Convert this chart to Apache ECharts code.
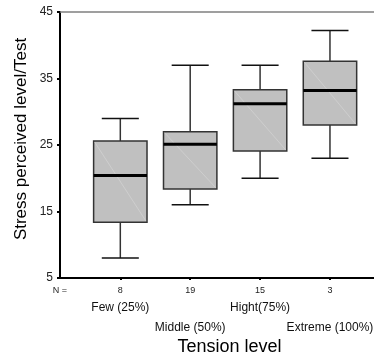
<!DOCTYPE html>
<html>
<head>
<meta charset="utf-8">
<script src="https://cdn.jsdelivr.net/npm/echarts@6/dist/echarts.min.js"></script>
<style>html,body{margin:0;padding:0;background:#fff}#c{width:374px;height:355px}</style>
</head>
<body>
<div id="c"></div>
<script>
const categories = ['Few (25%)', 'Middle (50%)', 'Hight(75%)', 'Extreme (100%)'];
const nCounts = [8, 19, 15, 3];
const mins = [8, 16, 20, 23];
const q1s = [13.4, 18.4, 24.1, 28];
const medians = [20.4, 25.1, 31.2, 33.2];
const q3s = [25.6, 27, 33.3, 37.6];
const maxs = [29, 37, 37, 42.2];
const yTicks = [5, 15, 25, 35, 45];

const FONT = 'Liberation Sans, Arial, sans-serif';
const boxData = categories.map((c, i) => [i + 1, mins[i], q1s[i], medians[i], q3s[i], maxs[i]]);
const xMin = 0.137, xMax = 4.63;

const chart = echarts.init(document.getElementById('c'), null, {renderer: 'canvas'});
chart.setOption({
  animation: false,
  backgroundColor: '#fff',
  grid: {left: 60, right: 0, top: 12, bottom: 77, containLabel: false, outerBoundsMode: 'none'},
  xAxis: [{
    type: 'value', min: xMin, max: xMax,
    splitLine: {show: false},
    axisLine: {lineStyle: {color: '#000', width: 2}},
    axisTick: {show: true, customValues: [1, 2, 3, 4], length: 2, lineStyle: {color: '#000', width: 2}},
    axisLabel: {
      show: true, customValues: [xMin, 1, 2, 3, 4, xMax], margin: 6, fontFamily: FONT, color: '#222',
      hideOverlap: false,
      formatter: function (v) {
        if (Math.abs(v - xMin) < 1e-6) return '{n|N =}';
        if (Math.abs(v - xMax) < 1e-6) return '{n| }';
        const i = Math.round(v) - 1;
        if (i % 2 === 0) return '{n|' + nCounts[i] + '}\n{c|' + categories[i] + '}';
        return '{n|' + nCounts[i] + '}\n{c| }\n{c|' + categories[i] + '}';
      },
      rich: {
        n: {fontSize: 9, lineHeight: 14, fontFamily: FONT, color: '#222'},
        c: {fontSize: 12, lineHeight: 20, fontFamily: FONT, color: '#111'}
      }
    },
    name: 'Tension level', nameLocation: 'middle', nameGap: 60, nameMoveOverlap: false,
    nameTextStyle: {fontSize: 18, fontFamily: FONT, color: '#000', padding: [0, 0, 0, 25]}
  }, {
    type: 'value', min: xMin, max: xMax, position: 'top',
    splitLine: {show: false},
    axisLine: {show: true, lineStyle: {color: '#808080', width: 1.5}},
    axisTick: {show: false}, axisLabel: {show: false}
  }],
  yAxis: {
    type: 'value', min: yTicks[0], max: yTicks[yTicks.length - 1], interval: 10,
    splitLine: {show: false},
    axisLine: {show: true, lineStyle: {color: '#000', width: 2}},
    axisTick: {show: true, length: 3, lineStyle: {color: '#000', width: 2}},
    axisLabel: {fontSize: 12, fontFamily: FONT, color: '#222', margin: 7},
    name: 'Stress perceived level/Test', nameLocation: 'middle', nameGap: 30, nameMoveOverlap: false,
    nameTextStyle: {fontSize: 17, fontFamily: FONT, color: '#000', padding: [0, 0, 0, 12]}
  },
  series: [{
    type: 'custom',
    data: boxData,
    encode: {x: 0, y: [1, 2, 3, 4, 5]},
    renderItem: function (params, api) {
      const x = api.value(0);
      const cx = api.coord([x, 0])[0];
      const yMin = api.coord([x, api.value(1)])[1];
      const yQ1 = api.coord([x, api.value(2)])[1];
      const yMed = api.coord([x, api.value(3)])[1];
      const yQ3 = api.coord([x, api.value(4)])[1];
      const yMax = api.coord([x, api.value(5)])[1];
      const half = api.size([0.382, 0])[0];
      const cap = api.size([0.265, 0])[0];
      const wl = {stroke: '#333', lineWidth: 1.5};
      return {
        type: 'group',
        children: [
          {type: 'line', shape: {x1: cx, y1: yMax, x2: cx, y2: yQ3}, style: wl},
          {type: 'line', shape: {x1: cx, y1: yQ1, x2: cx, y2: yMin}, style: wl},
          {type: 'line', shape: {x1: cx - cap, y1: yMax, x2: cx + cap, y2: yMax}, style: {stroke: '#111', lineWidth: 1.5}},
          {type: 'line', shape: {x1: cx - cap, y1: yMin, x2: cx + cap, y2: yMin}, style: {stroke: '#111', lineWidth: 1.5}},
          {type: 'rect', shape: {x: cx - half, y: yQ3, width: 2 * half, height: yQ1 - yQ3}, style: {fill: '#c0c0c0', stroke: '#333', lineWidth: 1.5}},
          {type: 'line', shape: {x1: cx - half + 1, y1: yQ3 + 1, x2: cx + half - 1, y2: yQ1 - 1}, style: {stroke: '#d6d6d6', lineWidth: 0.6}},
          {type: 'line', shape: {x1: cx - half, y1: yMed, x2: cx + half, y2: yMed}, style: {stroke: '#000', lineWidth: 3}}
        ]
      };
    }
  }]
});
</script>
</body>
</html>
